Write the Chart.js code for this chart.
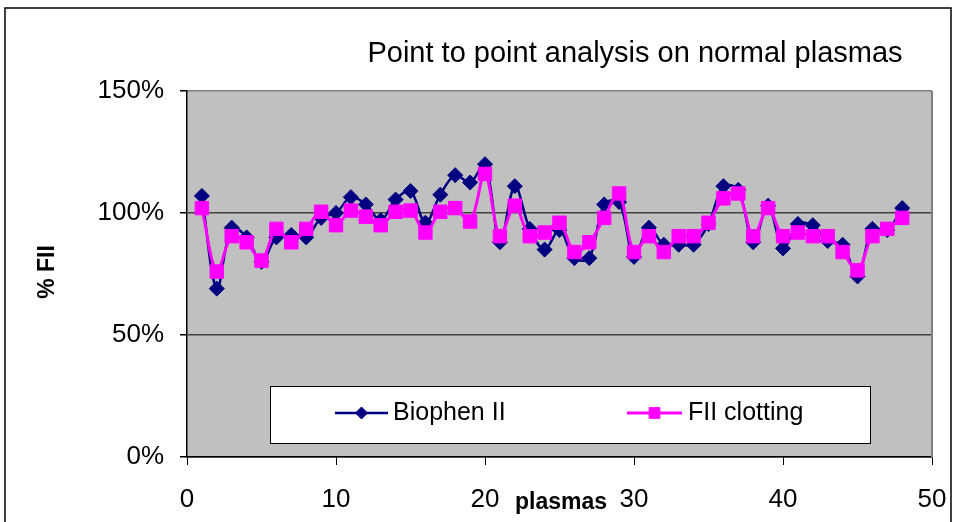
<!DOCTYPE html>
<html>
<head>
<meta charset="utf-8">
<script src="https://cdn.jsdelivr.net/npm/chart.js@4"></script>
<style>
  html, body { margin: 0; padding: 0; background: #fff; }
  #wrap { width: 956px; height: 522px; }
</style>
</head>
<body>
<div id="wrap"><canvas id="fiiChart" width="956" height="522"></canvas></div>
<script>
// plasma sample numbers
var plasmas = [1, 2, 3, 4, 5, 6, 7, 8, 9, 10, 11, 12, 13, 14, 15, 16, 17, 18, 19, 20,
               21, 22, 23, 24, 25, 26, 27, 28, 29, 30, 31, 32, 33, 34, 35, 36, 37, 38, 39, 40,
               41, 42, 43, 44, 45, 46, 47, 48];
// % FII per plasma
var biophen = [107, 69, 94, 90, 80, 90, 91, 90, 98, 100, 106.5, 103.5, 97, 105.5, 109, 96, 107.5, 115.5, 112.5, 120,
               88, 111, 93.5, 85, 93, 81.5, 81.5, 103.5, 104.5, 82, 94, 87, 87, 87, 95.5, 111, 109.5, 88, 103, 85.5,
               95.5, 95, 88.5, 87, 74, 93.5, 93, 102];
var clotting = [102, 76, 90.5, 88, 80.5, 93.5, 88, 93.5, 100.5, 95, 101, 98.5, 95, 100.5, 101, 92, 100.5, 102, 96.5, 116,
                90.5, 103, 90.5, 92, 96, 84, 88, 98, 108, 84, 90.5, 84, 90.5, 90.5, 96, 106, 108, 90.5, 102, 90.5,
                92, 90.5, 90.5, 84, 76.5, 90.5, 93.5, 98];
var yTicks = [0, 50, 100, 150];
var xTicks = [0, 10, 20, 30, 40, 50];

function toPoints(vals) {
    return plasmas.map(function (p, i) { return { x: p, y: vals[i] }; });
}

// frame, grey plot area and free-standing texts (Excel style)
var excelDecor = {
    id: 'excelDecor',
    beforeDraw: function (chart) {
        var c = chart.ctx, a = chart.chartArea;
        c.save();
        c.fillStyle = '#fff';
        c.fillRect(0, 0, chart.width, chart.height);
        c.strokeStyle = '#000';
        c.lineWidth = 1.5;
        c.strokeRect(5, 8, 946, 540);
        c.fillStyle = '#c0c0c0';
        c.fillRect(a.left, a.top, a.right - a.left, a.bottom - a.top);
        c.restore();
    },
    afterDatasetsDraw: function (chart) {
        var c = chart.ctx, a = chart.chartArea;
        c.save();
        // right border of plot
        c.strokeStyle = '#808080';
        c.lineWidth = 2;
        c.beginPath();
        c.moveTo(a.right, a.top);
        c.lineTo(a.right, a.bottom);
        c.stroke();

        // legend box
        c.fillStyle = '#fff';
        c.fillRect(270, 386, 600, 57);
        c.strokeStyle = '#000';
        c.lineWidth = 1;
        c.strokeRect(270.5, 386.5, 600, 57);
        var items = [
            { ds: chart.data.datasets[0], x0: 335, x1: 388, tx: 393 },
            { ds: chart.data.datasets[1], x0: 627, x1: 682, tx: 688 }
        ];
        var ly = 413;
        items.forEach(function (it) {
            c.strokeStyle = it.ds.borderColor;
            c.lineWidth = it.ds.borderWidth;
            c.beginPath();
            c.moveTo(it.x0, ly);
            c.lineTo(it.x1, ly);
            c.stroke();
            c.fillStyle = it.ds.backgroundColor;
            c.lineWidth = 1;
            Chart.helpers.drawPoint(c, {
                pointStyle: it.ds.pointStyle,
                radius: it.ds.pointRadius * 0.8,
                borderWidth: 1
            }, (it.x0 + it.x1) / 2, ly);
            c.fillStyle = '#000';
            c.font = '25px "Liberation Sans", Arial, sans-serif';
            c.textBaseline = 'middle';
            c.textAlign = 'left';
            c.fillText(it.ds.label, it.tx, ly);
        });

        // title
        c.fillStyle = '#000';
        c.textBaseline = 'alphabetic';
        c.textAlign = 'center';
        c.font = '29px "Liberation Sans", Arial, sans-serif';
        c.fillText('Point to point analysis on normal plasmas', 635, 62);

        // x title, sitting between the 20 and 30 labels
        c.font = 'bold 23px "Liberation Sans", Arial, sans-serif';
        c.fillText('plasmas', 561, 509);

        // y title
        c.translate(48, 272);
        c.rotate(-Math.PI / 2);
        c.textBaseline = 'middle';
        c.font = 'bold 23px "Liberation Sans", Arial, sans-serif';
        c.fillText('% FII', 0, 0);
        c.restore();
    }
};

var ctx = document.getElementById('fiiChart');
var fiiChart = new Chart(ctx, {
    type: 'line',
    data: {
        datasets: [
            {
                label: 'Biophen II',
                data: toPoints(biophen),
                borderColor: '#000080',
                backgroundColor: '#000080',
                borderWidth: 2.5,
                pointStyle: 'rectRot',
                pointRadius: 7.5,
                pointBorderWidth: 1,
                tension: 0.35,
                order: 2
            },
            {
                label: 'FII clotting',
                data: toPoints(clotting),
                borderColor: '#ff00ff',
                backgroundColor: '#ff00ff',
                borderWidth: 3,
                pointStyle: 'rect',
                pointRadius: 9.5,
                pointBorderWidth: 1,
                tension: 0.35,
                order: 1
            }
        ]
    },
    options: {
        responsive: false,
        animation: false,
        devicePixelRatio: 1,
        layout: { padding: { top: 91, right: 24, left: 0, bottom: 0 } },
        plugins: {
            legend: { display: false },
            title: { display: false },
            tooltip: { enabled: false }
        },
        scales: {
            x: {
                type: 'linear',
                min: 0,
                max: 50,
                afterFit: function (s) { s.height = 65; s.paddingLeft = 0; s.paddingRight = 0; },
                afterBuildTicks: function (s) { s.ticks = xTicks.map(function (v) { return { value: v }; }); },
                ticks: {
                    color: '#000',
                    padding: 19,
                    maxRotation: 0,
                    font: { family: '"Liberation Sans", Arial, sans-serif', size: 26 }
                },
                grid: { drawOnChartArea: false, drawTicks: true, tickLength: 8, color: '#000' },
                border: { color: '#000', width: 1.5 }
            },
            y: {
                min: 0,
                max: 150,
                afterFit: function (s) { s.width = 187; s.paddingTop = 0; s.paddingBottom = 0; },
                afterBuildTicks: function (s) { s.ticks = yTicks.map(function (v) { return { value: v }; }); },
                ticks: {
                    color: '#000',
                    padding: 16,
                    font: { family: '"Liberation Sans", Arial, sans-serif', size: 26 },
                    callback: function (v) { return v + '%'; }
                },
                grid: {
                    drawTicks: true,
                    tickLength: 7,
                    lineWidth: 1.5,
                    color: function (c) { return c.tick && c.tick.value === 150 ? '#808080' : '#404040'; },
                    tickColor: '#000'
                },
                border: { color: '#000', width: 1.5 }
            }
        }
    },
    plugins: [excelDecor]
});
</script>
</body>
</html>
